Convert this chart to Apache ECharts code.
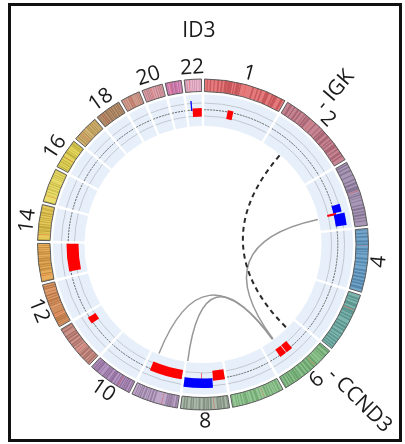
<!DOCTYPE html>
<html>
<head>
<meta charset="utf-8">
<script src="https://cdn.jsdelivr.net/npm/echarts@6/dist/echarts.min.js"></script>
<style>
html, body { margin: 0; padding: 0; background: #ffffff; }
#chart { width: 405px; height: 444px; }
</style>
</head>
<body>
<div id="chart"></div>
<script>
// Chromosome sizes (Mb), ideogram colours and centromere positions
const chromNames = ['1','2','3','4','5','6','7','8','9','10','11','12','13','14','15','16','17','18','19','20','21','22'];
const chromLengths = [249.3, 243.2, 198.0, 191.2, 180.9, 171.1, 159.1, 146.4, 141.2, 135.5, 135.0, 133.9, 115.2, 107.3, 102.5, 90.4, 81.2, 78.1, 59.1, 63.0, 48.1, 51.3];
const chromColors = ['#e57a7c','#c78594','#a897b5','#74a6cc','#7bb5ae','#8cc28c','#96c796','#aab9aa','#bea7c9','#b595c2','#cf958d','#dd9a6a','#e6ad5c','#e6c95a','#ebdd6a','#e2d35b','#d5b676','#bf9776','#d39e8e','#dea3ab','#dc8dbc','#e9b4cc'];
const bandColors = ['#b33f45','#95505f','#6f5d80','#3f6f94','#467f78','#55905a','#5f9a5f','#6b7a6b','#7d6689','#7a5886','#935a52','#a3602f','#ad762a','#a98f28','#b3a533','#a89a2a','#9c7e3f','#84603f','#9a6657','#a86a75','#a4568a','#b27c96'];
const centromeres = [125.0, 93.3, 91.0, 50.4, 48.4, 61.0, 59.9, 45.6, 49.0, 40.2, 53.7, 35.8, 17.9, 17.6, 19.0, 36.6, 24.0, 17.2, 26.5, 27.5, 13.2, 14.7];

// Dark cytobands per chromosome, [start, end] in Mb
const darkBands = [
  [[7,10],[16,20],[28,31],[39,44],[50,55],[60,68],[69,84],[88,92],[95,106],[107,111],[145,150],[160,164],[171,176],[186,198],[207,212],[214,224],[236,243]],
  [[10,17],[24,28],[36,42],[47,52],[61,64],[68,74],[76,83],[103,107],[119,122],[130,135],[137,147],[154,162],[168,172],[176,180],[186,197],[203,207],[214,222],[226,231]],
  [[4,8],[13,17],[24,29],[40,43],[54,58],[64,71],[76,88],[98,100],[103,107],[111,113],[120,122],[133,137],[142,148],[153,157],[161,168],[172,176],[182,185]],
  [[3,5],[12,16],[22,27],[35,41],[45,49],[59,65],[68,70],[75,78],[88,94],[100,105],[110,113],[123,129],[133,139],[144,150],[155,161],[164,170],[175,183]],
  [[10,16],[19,23],[29,38],[44,47],[52,58],[59,63],[68,73],[77,82],[93,98],[102,109],[113,118],[126,131],[137,140],[145,150],[154,159],[164,168],[172,176]],
  [[3,9],[16,22],[25,28],[33,35],[44,46],[52,58],[64,70],[75,83],[88,93],[98,105],[113,117],[120,128],[130,134],[139,145],[148,152],[157,162],[166,169]],
  [[7,13],[18,21],[25,27],[31,35],[40,44],[47,53],[67,70],[77,86],[91,97],[104,106],[110,117],[118,121],[126,130],[136,139],[143,146],[154,157]],
  [[2,6],[12,19],[22,27],[28,30],[31,37],[52,58],[61,66],[68,71],[73,80],[87,93],[99,101],[107,111],[113,118],[126,131],[134,139]],
  [[3,9],[14,17],[19,27],[28,33],[34,38],[71,76],[80,86],[90,94],[97,99],[103,109],[113,117],[119,123],[126,128],[131,134]],
  [[4,7],[12,17],[19,23],[25,28],[31,35],[38,40],[42,46],[51,54],[60,68],[69,72],[78,83],[85,88],[90,94],[104,106],[111,118],[119,122],[124,128],[131,133]],
  [[5,10],[13,16],[21,26],[27,31],[36,42],[45,47],[62,65],[70,74],[76,81],[87,93],[97,103],[105,110],[117,118],[121,126],[130,134]],
  [[4,7],[10,13],[15,20],[21,26],[27,30],[40,44],[47,49],[52,54],[57,59],[66,69],[71,75],[77,80],[81,86],[90,93],[97,102],[108,110],[118,122],[124,128]],
  [[0,4],[22,25],[32,34],[35,40],[44,47],[49,55],[59,65],[66,72],[74,76],[81,85],[87,91],[95,97],[101,104],[108,110]],
  [[0,4],[22,24],[27,31],[32,34],[37,44],[47,50],[55,58],[62,64],[67,70],[75,78],[81,86],[92,94],[96,98],[104,105]],
  [[0,4],[22,24],[30,33],[38,41],[42,44],[48,51],[55,59],[61,64],[66,67],[74,76],[79,82],[85,88],[92,95],[99,101]],
  [[4,7],[11,13],[17,21],[25,28],[34,36],[48,54],[57,59],[65,66],[74,77],[79,84],[86,88]],
  [[6,11],[14,17],[19,22],[28,32],[36,38],[45,49],[51,55],[58,62],[64,68],[71,74],[77,80]],
  [[2,5],[8,11],[14,17],[20,24],[28,34],[36,39],[42,46],[48,52],[56,61],[64,67],[69,73],[76,78]],
  [[6,8],[13,15],[20,24],[28,32],[37,38],[43,44],[48,50],[53,55]],
  [[5,8],[11,15],[17,20],[22,25],[33,35],[40,43],[47,50],[52,55],[57,59]],
  [[0,3],[5,7],[15,19],[20,22],[25,30],[31,33],[37,40],[44,45]],
  [[0,4],[6,9],[13,14],[18,19],[23,25],[29,31],[35,37],[43,45],[47,48]]
];

const labelledChroms = ['1','2','4','6','8','10','12','14','16','18','20','22'];

// Copy-number segments: [chromosome, start Mb, end Mb, amplitude]
const gainSegments = [
  ['1', 85, 106, 9],
  ['3', 140, 148, 9],
  ['6', 79, 104, 9],
  ['6', 107, 132, 9],
  ['8', 0, 43, 10],
  ['8', 84.5, 86.5, 8],
  ['9', 1, 120, 9.5],
  ['11', 96, 121, 9],
  ['13', 14, 115, 12],
  ['22', 18, 51.3, 8.5]
];
const lossSegments = [
  ['3', 113, 140, 8.5],
  ['3', 146, 189, 11],
  ['8', 45, 146.4, 9.5],
  ['22', 12.5, 17, 10]
];

// Structural links: [chrA, posA, chrB, posB]
const solidLinks = [
  ['3', 150, '6', 115],
  ['9', 112, '6', 116],
  ['8', 143, '6', 118]
];
const dashedLinks = [
  ['2', 85, '6', 42]
];

// Gene annotations: [name, chromosome, position Mb]
const geneLabels = [
  ['ID3', '1', 23.9],
  ['IGK', '2', 85],
  ['CCND3', '6', 42]
];

// Genome layout along the angle axis (Mb, with a fixed gap between chromosomes)
const GAP = 9;
const offsets = {};
let acc = 0;
chromNames.forEach(function (c, i) { offsets[c] = acc + GAP / 2; acc += chromLengths[i] + GAP; });
const TOTAL = acc;
function gpos(c, p) { return offsets[c] + p; }

// Ring radii (radius axis units)
const IDEO_R0 = 153, IDEO_R1 = 165.5;
const TRACK_R0 = 118.5, TRACK_R1 = 150;
const GRID_OUT = 141.5, GRID_MID = 134.8, GRID_IN = 128.5;
const GAIN_TOP = 136.5, LOSS_BASE = 134;
const LINK_R = 117.5;
const LABEL_R = 177, GENE_R = 180, ID3_R = 214;
const FONT = '"Open Sans", "Liberation Sans", sans-serif';

function sectorShape(params, api, r0, r1, a0, a1) {
  const cs = params.coordSys;
  const pa = api.coord([r1, a0]);
  const pb = api.coord([r1, a1]);
  const pc = api.coord([r0, a0]);
  let s = Math.atan2(pa[1] - cs.cy, pa[0] - cs.cx);
  let e = Math.atan2(pb[1] - cs.cy, pb[0] - cs.cx);
  while (e < s - 1e-9) e += Math.PI * 2;
  return {
    cx: cs.cx, cy: cs.cy,
    r: Math.hypot(pa[0] - cs.cx, pa[1] - cs.cy),
    r0: Math.hypot(pc[0] - cs.cx, pc[1] - cs.cy),
    startAngle: s, endAngle: e, clockwise: true
  };
}
function arcShape(params, api, r, a0, a1) {
  const sh = sectorShape(params, api, r, r, a0, a1);
  return { cx: sh.cx, cy: sh.cy, r: sh.r, startAngle: sh.startAngle, endAngle: sh.endAngle, clockwise: true };
}
function clockAngle(params, p) {
  const cs = params.coordSys;
  let t = Math.atan2(p[1] - cs.cy, p[0] - cs.cx) + Math.PI / 2;
  if (t < 0) t += Math.PI * 2;
  return t;
}

// series data
const chromData = chromNames.map(function (c, i) { return [IDEO_R1, offsets[c], offsets[c] + chromLengths[i], i]; });
const bandData = [];
darkBands.forEach(function (list, i) {
  list.forEach(function (b) { bandData.push([IDEO_R1, gpos(chromNames[i], b[0]), gpos(chromNames[i], Math.min(b[1], chromLengths[i])), i]); });
});
const cenData = centromeres.map(function (p, i) { return [IDEO_R1, gpos(chromNames[i], p - 0.6), gpos(chromNames[i], p + 0.6), i]; });
const gainData = gainSegments.map(function (s) { return [GAIN_TOP, gpos(s[0], s[1]), gpos(s[0], s[2]), s[3]]; });
const lossData = lossSegments.map(function (s) { return [LOSS_BASE, gpos(s[0], s[1]), gpos(s[0], s[2]), s[3]]; });
const solidData = solidLinks.map(function (l) { return [LINK_R, gpos(l[0], l[1]), gpos(l[2], l[3])]; });
const dashedData = dashedLinks.map(function (l) { return [LINK_R, gpos(l[0], l[1]), gpos(l[2], l[3])]; });
const chromLabelData = labelledChroms.map(function (c) { const i = chromNames.indexOf(c); return [LABEL_R, offsets[c] + chromLengths[i] / 2]; });
const geneData = geneLabels.map(function (g) { return [g[0] === 'ID3' ? ID3_R : GENE_R, gpos(g[1], g[2])]; });

function renderTrack(params, api) {
  const a0 = api.value(1), a1 = api.value(2);
  return {
    type: 'group',
    children: [
      { type: 'sector', shape: sectorShape(params, api, TRACK_R0, TRACK_R1, a0, a1), style: { fill: '#e7f0fa' } },
      { type: 'arc', shape: arcShape(params, api, GRID_OUT, a0, a1), style: { stroke: '#c3c8d0', lineWidth: 1, fill: null } },
      { type: 'arc', shape: arcShape(params, api, GRID_IN, a0, a1), style: { stroke: '#c3c8d0', lineWidth: 1, fill: null } },
      { type: 'arc', shape: arcShape(params, api, GRID_MID, a0, a1), style: { stroke: '#606060', lineWidth: 1, lineDash: [2, 1], fill: null } }
    ]
  };
}
function renderIdeogram(params, api) {
  const i = api.value(3);
  return { type: 'sector', shape: sectorShape(params, api, IDEO_R0, IDEO_R1, api.value(1), api.value(2)), style: { fill: chromColors[i] } };
}
function renderIdeoOutline(params, api) {
  return { type: 'sector', shape: sectorShape(params, api, IDEO_R0, IDEO_R1, api.value(1), api.value(2)), style: { fill: null, stroke: '#5c5c5c', lineWidth: 1 } };
}
function renderBand(params, api) {
  const i = api.value(3);
  return { type: 'sector', shape: sectorShape(params, api, IDEO_R0, IDEO_R1, api.value(1), api.value(2)), style: { fill: bandColors[i], opacity: 0.6 } };
}
function renderCen(params, api) {
  return { type: 'sector', shape: sectorShape(params, api, IDEO_R0, IDEO_R1, api.value(1), api.value(2)), style: { fill: '#e8402c', opacity: 0.8 } };
}
function renderGain(params, api) {
  const top = api.value(0), h = api.value(3);
  return { type: 'sector', shape: sectorShape(params, api, top - h, top, api.value(1), api.value(2)), style: { fill: '#ff0000' } };
}
function renderLoss(params, api) {
  const base = api.value(0), h = api.value(3);
  return { type: 'sector', shape: sectorShape(params, api, base, base + h, api.value(1), api.value(2)), style: { fill: '#0000ff' } };
}
function linkRenderer(stroke, width, dash) {
  return function (params, api) {
    const r = api.value(0);
    const p0 = api.coord([r, api.value(1)]);
    const p1 = api.coord([r, api.value(2)]);
    const c = api.coord([0, 0]);
    return {
      type: 'bezierCurve',
      shape: { x1: p0[0], y1: p0[1], x2: p1[0], y2: p1[1], cpx1: c[0], cpy1: c[1] },
      style: { stroke: stroke, lineWidth: width, lineDash: dash, fill: null }
    };
  };
}
function renderChromLabel(params, api) {
  const p = api.coord([api.value(0), api.value(1)]);
  const t = clockAngle(params, p);
  const rot = (t > Math.PI / 2 && t < Math.PI * 1.5) ? Math.PI - t : -t;
  return {
    type: 'text', x: p[0], y: p[1], rotation: rot,
    style: { text: labelledChroms[params.dataIndex], fill: '#1a1a1a', fontSize: 21, fontFamily: FONT, align: 'center', verticalAlign: 'middle' }
  };
}
function renderGeneLabel(params, api) {
  const p = api.coord([api.value(0), api.value(1)]);
  const name = geneLabels[params.dataIndex][0];
  if (name === 'ID3') {
    return { type: 'text', x: p[0], y: p[1], style: { text: name, fill: '#1a1a1a', fontSize: 21, fontFamily: FONT, align: 'right', verticalAlign: 'middle' } };
  }
  const t = clockAngle(params, p);
  return {
    type: 'text', x: p[0], y: p[1], rotation: Math.PI / 2 - t,
    style: { text: '- ' + name, fill: '#1a1a1a', fontSize: 21, fontFamily: FONT, align: 'left', verticalAlign: 'middle' }
  };
}

const chart = echarts.init(document.getElementById('chart'), null, { renderer: 'canvas' });
chart.setOption({
  animation: false,
  backgroundColor: '#ffffff',
  polar: { center: [203, 244.5], radius: [0, 170] },
  angleAxis: { type: 'value', min: 0, max: TOTAL, startAngle: 90, clockwise: true, show: false, axisLine: { show: false }, splitLine: { show: false }, axisLabel: { show: false }, axisTick: { show: false } },
  radiusAxis: { type: 'value', min: 0, max: 170, show: false, axisLine: { show: false }, splitLine: { show: false }, axisLabel: { show: false }, axisTick: { show: false } },
  graphic: [
    { type: 'rect', shape: { x: 9.5, y: 4.5, width: 391, height: 436 }, style: { fill: 'none', stroke: '#111111', lineWidth: 3 }, z: 100 }
  ],
  series: [
    { type: 'custom', coordinateSystem: 'polar', silent: true, z: 1, data: chromData, renderItem: renderTrack },
    { type: 'custom', coordinateSystem: 'polar', silent: true, z: 2, data: gainData, renderItem: renderGain },
    { type: 'custom', coordinateSystem: 'polar', silent: true, z: 2, data: lossData, renderItem: renderLoss },
    { type: 'custom', coordinateSystem: 'polar', silent: true, z: 3, data: solidData, renderItem: linkRenderer('#979797', 1.5, null) },
    { type: 'custom', coordinateSystem: 'polar', silent: true, z: 3, data: dashedData, renderItem: linkRenderer('#2a2a2a', 2, [5, 4]) },
    { type: 'custom', coordinateSystem: 'polar', silent: true, z: 4, data: chromData, renderItem: renderIdeogram },
    { type: 'custom', coordinateSystem: 'polar', silent: true, z: 5, data: bandData, renderItem: renderBand },
    { type: 'custom', coordinateSystem: 'polar', silent: true, z: 6, data: cenData, renderItem: renderCen },
    { type: 'custom', coordinateSystem: 'polar', silent: true, z: 7, data: chromData, renderItem: renderIdeoOutline },
    { type: 'custom', coordinateSystem: 'polar', silent: true, z: 8, data: chromLabelData, renderItem: renderChromLabel },
    { type: 'custom', coordinateSystem: 'polar', silent: true, z: 8, data: geneData, renderItem: renderGeneLabel }
  ]
});
</script>
</body>
</html>
